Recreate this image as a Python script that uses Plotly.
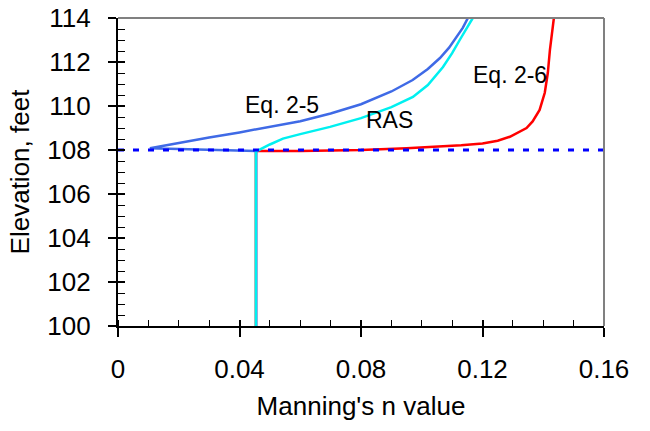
import plotly.graph_objects as go

# Manning's n versus water-surface elevation for three methods
eq25_n = [0.0455, 0.0455, 0.0105, 0.0200, 0.0300, 0.0400, 0.0500, 0.0600, 0.0700,
          0.0800, 0.0900, 0.0970, 0.1020, 0.1060, 0.1090, 0.1116, 0.1135, 0.1152]
eq25_elev = [100.0, 107.95, 108.08, 108.33, 108.57, 108.80, 109.04, 109.31, 109.66,
             110.08, 110.66, 111.18, 111.68, 112.18, 112.65, 113.14, 113.55, 114.0]

ras_n = [0.0454, 0.0454, 0.0500, 0.0543, 0.0600, 0.0698, 0.0800, 0.0900, 0.0971,
         0.1020, 0.1070, 0.1100, 0.1125, 0.1148, 0.1168]
ras_elev = [100.0, 107.93, 108.25, 108.52, 108.72, 109.05, 109.45, 109.95, 110.41,
            110.95, 111.77, 112.40, 113.00, 113.55, 114.0]

eq26_n = [0.0454, 0.0454, 0.0600, 0.0800, 0.0950, 0.1050, 0.1130, 0.1200, 0.1250,
          0.1290, 0.1320, 0.1345, 0.1365, 0.1388, 0.1405, 0.1415, 0.1422, 0.1428, 0.1435]
eq26_elev = [100.0, 107.95, 107.96, 108.00, 108.08, 108.15, 108.22, 108.30, 108.42,
             108.60, 108.80, 109.00, 109.30, 109.82, 110.60, 111.50, 112.55, 113.30, 114.0]

bankfull_elev = 108.0
x_range = [0.0, 0.16]
y_range = [100.0, 114.0]

series_labels = ["Eq. 2-5", "RAS", "Eq. 2-6"]
label_n = [0.054, 0.0895, 0.129]
label_elev = [110.05, 109.36, 111.41]

FONT = "Liberation Sans"

fig = go.Figure()
fig.add_trace(go.Scatter(x=eq26_n, y=eq26_elev, mode="lines",
                         line=dict(color="#FF0000", width=2.5), name="Eq. 2-6"))
fig.add_trace(go.Scatter(x=eq25_n, y=eq25_elev, mode="lines",
                         line=dict(color="#3F6AE6", width=2.5), name="Eq. 2-5"))
fig.add_trace(go.Scatter(x=ras_n, y=ras_elev, mode="lines",
                         line=dict(color="#00F0F0", width=2.5), name="RAS"))
# bankfull reference line (on the overlay axis that carries the inside major ticks)
fig.add_trace(go.Scatter(x=x_range, y=[bankfull_elev, bankfull_elev], mode="lines",
                         line=dict(color="#0000FF", width=3, dash="6px,9px"),
                         yaxis="y2", xaxis="x2", name="bankfull"))

for txt, xn, ye in zip(series_labels, label_n, label_elev):
    fig.add_annotation(x=xn, y=ye, text=txt, showarrow=False,
                       font=dict(family=FONT, size=23, color="black"))

axis_common = dict(showgrid=False, zeroline=False, linecolor="black", linewidth=1.5,
                   tickcolor="black", tickwidth=1.5, automargin=False,
                   tickfont=dict(family=FONT, size=26, color="black"))

fig.update_layout(
    width=650, height=431,
    margin=dict(l=118, r=46, t=18, b=105),
    paper_bgcolor="white", plot_bgcolor="white",
    showlegend=False,
    font=dict(family=FONT, size=26, color="black"),
    xaxis=dict(range=x_range, dtick=0.04, tick0=0, ticks="outside", ticklen=9,
               ticklabelstandoff=10,
               minor=dict(ticks="inside", dtick=0.01, ticklen=6, tickcolor="black", tickwidth=1.2),
               title=dict(text="Manning's n value", standoff=14,
                          font=dict(family=FONT, size=26)),
               **axis_common),
    yaxis=dict(range=y_range, dtick=2, tick0=100, ticks="outside", ticklen=8,
               ticksuffix="\u00a0\u2009",
               minor=dict(ticks="inside", dtick=0.5, ticklen=7, tickcolor="black", tickwidth=1.2),
               title=dict(text="Elevation, feet", standoff=10,
                          font=dict(family=FONT, size=26)),
               **axis_common),
    xaxis2=dict(range=x_range, dtick=0.04, tick0=0, ticks="inside", ticklen=6,
                overlaying="x", showticklabels=False, showline=False, showgrid=False,
                zeroline=False, tickcolor="black", tickwidth=1.5, automargin=False),
    yaxis2=dict(range=y_range, dtick=2, tick0=100, ticks="inside", ticklen=7,
                overlaying="y", showticklabels=False, showline=False, showgrid=False,
                zeroline=False, tickcolor="black", tickwidth=1.5, automargin=False),
    shapes=[
        dict(type="line", xref="paper", yref="paper", x0=0, x1=1, y0=1, y1=1,
             line=dict(color="#808080", width=2)),
        dict(type="line", xref="paper", yref="paper", x0=1, x1=1, y0=0, y1=1,
             line=dict(color="#808080", width=2)),
    ],
)

fig.write_html("out.html")
